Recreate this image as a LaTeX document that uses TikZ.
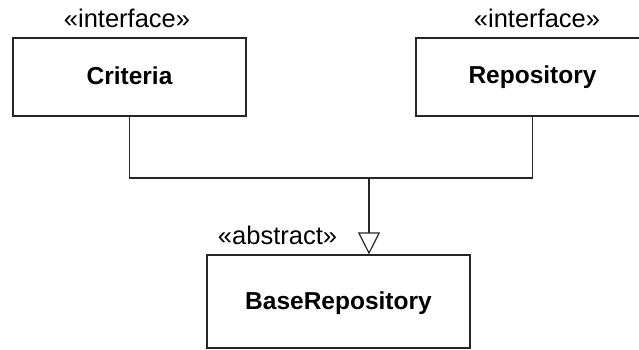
\documentclass[tikz,border=0pt]{standalone}
\usepackage{fontspec}
\setmainfont{Liberation Sans}
\usetikzlibrary{arrows.meta}
\begin{document}
\begin{tikzpicture}[x=1pt,y=1pt,
  cls/.style={draw=black!85, line width=1.2pt, fill=white, inner sep=0pt,
    font=\fontsize{24.5}{28}\selectfont\bfseries},
  stereo/.style={inner sep=0pt, anchor=base, font=\fontsize{25.5}{30}\selectfont},
  conn/.style={draw=black!85, line width=1.2pt}]
\useasboundingbox (0,0) rectangle (639,-349);
\clip (0,0) rectangle (639,-349);
\fill[white] (0,0) rectangle (639,-349);
\node[cls, minimum width=233pt, minimum height=78pt] (crit) at (129.5,-77) {};
\node[cls, minimum width=233pt, minimum height=78pt] (repo) at (532.5,-77) {};
\node[cls, minimum width=263pt, minimum height=93pt] (base) at (338.5,-301.5) {};
\node[stereo, font=\fontsize{24.5}{28}\selectfont\bfseries] (tcrit) at (129.5,-84) {Criteria};
\node[stereo, font=\fontsize{24.5}{28}\selectfont\bfseries] (trepo) at (532.5,-83) {Repository};
\node[stereo, font=\fontsize{24.5}{28}\selectfont\bfseries] (tbase) at (338.5,-309) {BaseRepository};
\node[stereo] (s1) at (127,-27) {«interface»};
\node[stereo] (s2) at (537,-27) {«interface»};
\node[stereo] (s3) at (277.5,-244) {«abstract»};
\coordinate (j) at (369,-178);
\path[conn] (crit.south) |- (j);
\path[conn] (repo.south) |- (j);
\path[conn, -{Triangle[open, length=22pt, width=22pt, line width=1.2pt]}] (j) -- (j |- base.north);
\end{tikzpicture}
\end{document}
